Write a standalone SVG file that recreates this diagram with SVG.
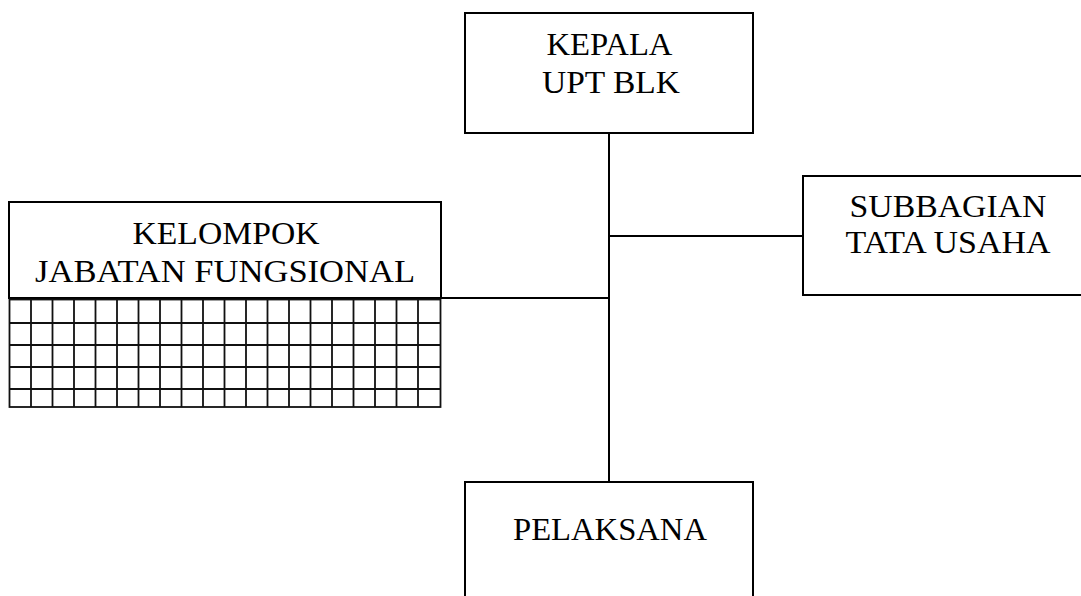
<svg xmlns="http://www.w3.org/2000/svg" width="1081" height="596" viewBox="0 0 1081 596">
<style>
.box{fill:#fff;stroke:#000;stroke-width:2}
.con{stroke:#000;stroke-width:2;fill:none}
.grid{stroke:#111;stroke-width:1.8;fill:none}
.t{font-family:"Liberation Serif","DejaVu Serif",serif;font-size:31px;fill:#000;text-anchor:middle}
</style>
<rect width="1081" height="596" fill="#fff"/>
<g id="connectors">
<line class="con" x1="609" y1="133" x2="609" y2="482"/>
<line class="con" x1="609" y1="236" x2="803" y2="236"/>
<line class="con" x1="441" y1="298" x2="609" y2="298"/>
</g>
<g id="kepala">
<rect class="box" x="465" y="13" width="288" height="120"/>
<text class="t" x="609.5" y="55" textLength="126" lengthAdjust="spacingAndGlyphs">KEPALA</text>
<text class="t" x="611" y="93" textLength="138" lengthAdjust="spacingAndGlyphs">UPT BLK</text>
</g>
<g id="subbagian">
<rect class="box" x="803" y="176" width="290" height="119"/>
<text class="t" x="948" y="217" textLength="197" lengthAdjust="spacingAndGlyphs">SUBBAGIAN</text>
<text class="t" x="948" y="253" textLength="205" lengthAdjust="spacingAndGlyphs">TATA USAHA</text>
</g>
<g id="kelompok">
<rect class="box" x="9" y="202" width="432" height="96"/>
<text class="t" x="226" y="244" textLength="187" lengthAdjust="spacingAndGlyphs">KELOMPOK</text>
<text class="t" x="225" y="282" textLength="380" lengthAdjust="spacingAndGlyphs">JABATAN FUNGSIONAL</text>
<g id="grid">
<rect class="grid" x="9.5" y="299.5" width="431" height="107.5" stroke-width="2"/>
<path class="grid" d="M9 323H441M9 345H441M9 367H441M9 389H441
M31 300V407M52.5 300V407M74 300V407M95.5 300V407M117 300V407M138.5 300V407M160 300V407M181.5 300V407M203 300V407M224.5 300V407M246 300V407M267.5 300V407M289 300V407M310.5 300V407M332 300V407M353.5 300V407M375 300V407M396.5 300V407M418 300V407"/>
</g>
</g>
<g id="pelaksana">
<rect class="box" x="465" y="482" width="288" height="130"/>
<text class="t" x="610" y="540" textLength="194" lengthAdjust="spacingAndGlyphs">PELAKSANA</text>
</g>
</svg>
